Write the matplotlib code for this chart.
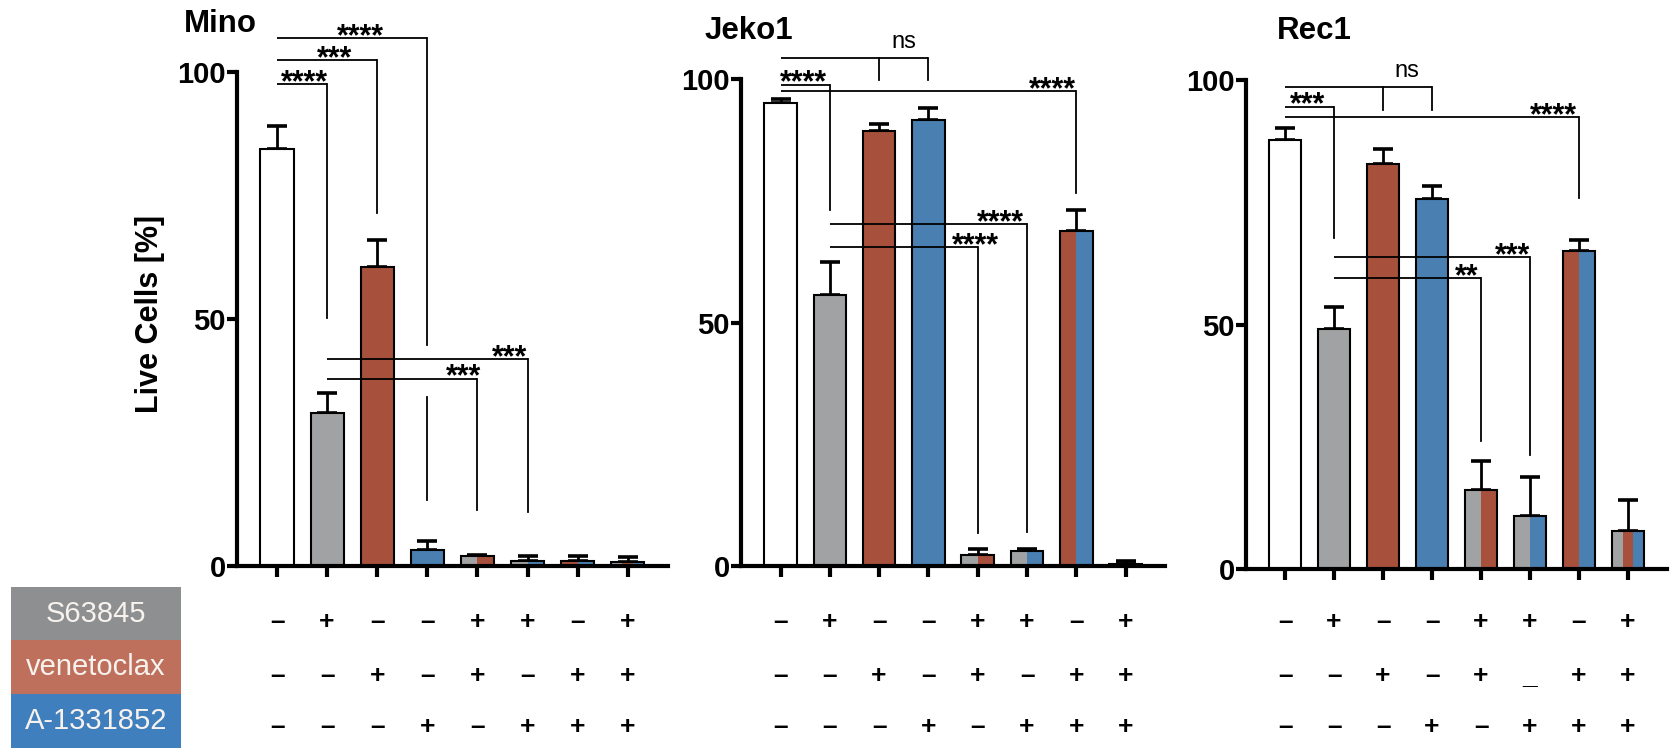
import matplotlib.pyplot as plt
from matplotlib.patches import Rectangle
from matplotlib.transforms import blended_transform_factory

plt.rcParams['font.family'] = ['Liberation Sans', 'DejaVu Sans']

W, H = 1676, 753

drugs = ['S63845', 'venetoclax', 'A-1331852']
bar_colors = ['#a1a2a3', '#a7503b', '#4a7fb1']
box_colors = ['#8e8f91', '#bf705c', '#3f7fbd']

# drugs given in each of the 8 conditions
s63845     = [0, 1, 0, 0, 1, 1, 0, 1]
venetoclax = [0, 0, 1, 0, 1, 0, 1, 1]
a1331852   = [0, 0, 0, 1, 0, 1, 1, 1]

mino_mean  = [84.5, 31.0, 60.5, 3.2, 2.0, 1.0, 1.0, 0.9]
mino_sd    = [4.5, 4.0, 5.5, 1.8, 0.3, 1.0, 1.0, 0.9]
jeko1_mean = [95.1, 55.6, 89.3, 91.6, 2.2, 3.1, 68.8, 0.4]
jeko1_sd   = [0.8, 6.8, 1.4, 2.4, 1.3, 0.4, 4.2, 0.6]
rec1_mean  = [87.7, 49.1, 82.8, 75.7, 16.2, 10.8, 65.0, 7.8]
rec1_sd    = [2.5, 4.5, 3.1, 2.6, 5.9, 8.0, 2.3, 6.3]

# significance brackets: level, from bar, to bar, drop bars, drop end, label, label x
mino_brackets = [
    dict(level=106.9, x0=0, x1=3, drops=[3], low=13.4, gap=(34.2, 44.7), text='****', tx=1.66),
    dict(level=102.4, x0=0, x1=2, drops=[2], low=71.5, text='***', tx=1.14),
    dict(level=97.6, x0=0, x1=1, drops=[1], low=50.2, text='****', tx=0.54),
    dict(level=41.9, x0=1, x1=5, drops=[5], low=10.9, text='***', tx=4.65),
    dict(level=37.9, x0=1, x1=4, drops=[4], low=11.3, text='***', tx=3.73),
]
jeko1_brackets = [
    dict(level=104.3, x0=0, x1=3, drops=[2, 3], low=99.8, text='ns', tx=2.5),
    dict(level=98.8, x0=0, x1=1, drops=[1], low=73.1, text='****', tx=0.47),
    dict(level=97.5, x0=0, x1=6, drops=[6], low=76.6, text='****', tx=5.51),
    dict(level=70.2, x0=1, x1=5, drops=[5], low=7.0, text='****', tx=4.47),
    dict(level=65.5, x0=1, x1=4, drops=[4], low=6.8, text='****', tx=3.96),
]
rec1_brackets = [
    dict(level=98.6, x0=0, x1=3, drops=[2, 3], low=93.9, text='ns', tx=2.49),
    dict(level=94.5, x0=0, x1=1, drops=[1], low=67.7, text='***', tx=0.47),
    dict(level=92.4, x0=0, x1=6, drops=[6], low=75.9, text='****', tx=5.47),
    dict(level=63.8, x0=1, x1=5, drops=[5], low=23.3, text='***', tx=4.65),
    dict(level=59.5, x0=1, x1=4, drops=[4], low=26.2, text='**', tx=3.71),
]

treat = [s63845, venetoclax, a1331852]
sign_rows = [['+' if t else '\u2013' for t in row] for row in treat]
rec1_rows = [r[:] for r in sign_rows]
rec1_rows[1][5] = '_'

# panel placement in pixels: first bar x, bar spacing, 0-line y, 100-line y, title pos
panels = [
    ('Mino', mino_mean, mino_sd, mino_brackets, sign_rows, 277, 50.1, 566, 72, (184, 32)),
    ('Jeko1', jeko1_mean, jeko1_sd, jeko1_brackets, sign_rows, 780.5, 49.3, 566, 79, (705, 39)),
    ('Rec1', rec1_mean, rec1_sd, rec1_brackets, rec1_rows, 1285, 49.0, 569, 80, (1277, 39)),
]

XMIN, XMAX = -0.8, 7.8
row_y = [622, 676, 727]

fig = plt.figure(figsize=(W / 100, H / 100), dpi=100)

for name, mean, sd, brackets, rows, x0px, step, y0px, y100px, tpos in panels:
    left = x0px + XMIN * step
    width = (XMAX - XMIN) * step
    ax = fig.add_axes([left / W, 1 - y0px / H, width / W, (y0px - y100px) / H])
    ax.set_xlim(XMIN, XMAX)
    ax.set_ylim(0, 100)

    bw = 0.66
    for i, m in enumerate(mean):
        cols = [bar_colors[k] for k in range(3) if treat[k][i]]
        if not cols:
            cols = ['white']
        seg = bw / len(cols)
        for j, c in enumerate(cols):
            ax.bar(i - bw / 2 + j * seg, m, width=seg, align='edge', color=c,
                   edgecolor='none', zorder=2)
        ax.bar(i, m, width=bw, fill=False, edgecolor='black', linewidth=1.5, zorder=3)
    ax.errorbar(range(8), mean, yerr=[[0] * 8, sd], fmt='none', ecolor='black',
                elinewidth=2, capsize=7, capthick=2.6, zorder=1, clip_on=False)

    for b in brackets:
        ax.plot([b['x0'], b['x1']], [b['level'], b['level']], color='black',
                lw=1.3, clip_on=False, solid_capstyle='butt')
        for d in b['drops']:
            if 'gap' in b:
                ax.plot([d, d], [b['level'], b['gap'][1]], color='black', lw=1.3, clip_on=False)
                ax.plot([d, d], [b['gap'][0], b['low']], color='black', lw=1.3, clip_on=False)
            else:
                ax.plot([d, d], [b['level'], b['low']], color='black', lw=1.3, clip_on=False)
        if b['text'] == 'ns':
            ax.text(b['tx'], b['level'] + 2.0, 'ns', ha='center', va='baseline',
                    fontsize=17, clip_on=False)
        else:
            ax.text(b['tx'], b['level'] - 1.4, b['text'], ha='center', va='baseline',
                    fontsize=22, fontweight='bold', clip_on=False)

    for s in ['top', 'right']:
        ax.spines[s].set_visible(False)
    for s in ['left', 'bottom']:
        ax.spines[s].set_linewidth(3)
    ax.set_xticks(range(8))
    ax.set_xticklabels([])
    ax.set_yticks([0, 50, 100])
    ax.set_yticklabels(['0', '50', '100'], fontsize=21, fontweight='bold')
    ax.tick_params(axis='x', length=8, width=3, direction='out')
    ax.tick_params(axis='y', length=7, width=3, direction='out', pad=1)
    ax.patch.set_visible(False)

    fig.text(tpos[0] / W, 1 - tpos[1] / H, name, fontsize=22.5, fontweight='bold',
             ha='left', va='baseline')

    tr = blended_transform_factory(ax.transData, fig.transFigure)
    for r, ypx in zip(rows, row_y):
        for i, s in enumerate(r):
            ax.text(i, 1 - ypx / H, s, transform=tr, ha='center', va='center',
                    fontsize=19, fontweight='bold', clip_on=False)

fig.text(150 / W, 1 - 314 / H, 'Live Cells [%]', rotation=90, ha='center', va='center',
         fontsize=22, fontweight='bold')

# drug legend boxes at lower left
box_top = [587, 640, 694]
box_h = [53, 54, 54]
for name, c, top, h in zip(drugs, box_colors, box_top, box_h):
    fig.add_artist(Rectangle((11 / W, 1 - (top + h) / H), 170 / W, h / H,
                             transform=fig.transFigure, facecolor=c, edgecolor='none'))
    fig.text(96 / W, 1 - (top + h / 2) / H, name, color='#f7f2ee', fontsize=21,
             ha='center', va='center')

fig.savefig('out.png', dpi=100)
